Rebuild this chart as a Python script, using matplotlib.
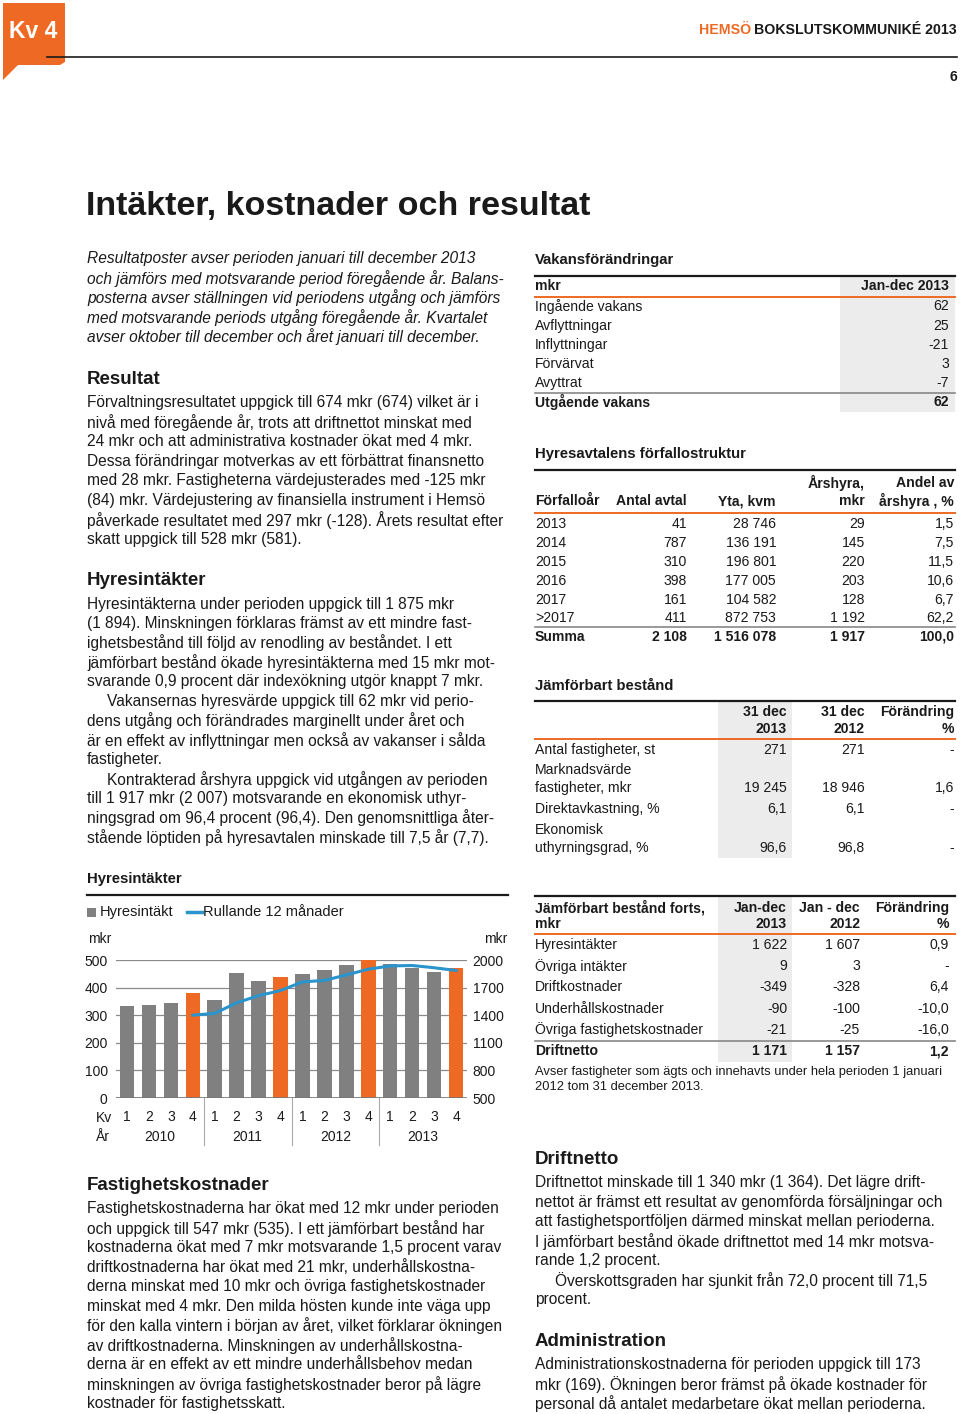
import matplotlib
matplotlib.use("Agg")
import matplotlib.pyplot as plt
from matplotlib.lines import Line2D
from matplotlib.patches import Rectangle, Polygon
import numpy as np

plt.rcParams['font.family'] = ['Liberation Sans', 'DejaVu Sans']

# ---- chart data (Hyresintäkter per kvartal, mkr) ----
quarters = [1, 2, 3, 4, 1, 2, 3, 4, 1, 2, 3, 4, 1, 2, 3, 4]
years = ['2010', '2011', '2012', '2013']
rent_income = [335, 336, 346, 380, 355, 452, 423, 437,
               451, 465, 483, 500, 486, 471, 457, 471]
# rolling 12 months, starts at Q4 2010
rolling_12m = [None, None, None, 1400, 1420, 1535, 1612, 1668,
               1762, 1778, 1838, 1900, 1936, 1940, 1916, 1886]
left_ticks = [0, 100, 200, 300, 400, 500]
right_ticks = [500, 800, 1100, 1400, 1700, 2000]

# ---- tables ----
vakans_rows = ['Ingående vakans', 'Avflyttningar', 'Inflyttningar', 'Förvärvat', 'Avyttrat']
vakans_vals = ['62', '25', '-21', '3', '-7']
vakans_total = ('Utgående vakans', '62')

forfall_years = ['2013', '2014', '2015', '2016', '2017', '>2017']
forfall_avtal = ['41', '787', '310', '398', '161', '411']
forfall_yta = ['28 746', '136 191', '196 801', '177 005', '104 582', '872 753']
forfall_hyra = ['29', '145', '220', '203', '128', '1 192']
forfall_andel = ['1,5', '7,5', '11,5', '10,6', '6,7', '62,2']
forfall_sum = ['Summa', '2 108', '1 516 078', '1 917', '100,0']

jamf_rows = ['Antal fastigheter, st', 'Marknadsvärde\nfastigheter, mkr',
             'Direktavkastning, %', 'Ekonomisk\nuthyrningsgrad, %']
jamf_2013 = ['271', '19 245', '6,1', '96,6']
jamf_2012 = ['271', '18 946', '6,1', '96,8']
jamf_chg = ['-', '1,6', '-', '-']

forts_rows = ['Hyresintäkter', 'Övriga intäkter', 'Driftkostnader',
              'Underhållskostnader', 'Övriga fastighetskostnader']
forts_2013 = ['1 622', '9', '-349', '-90', '-21']
forts_2012 = ['1 607', '3', '-328', '-100', '-25']
forts_chg = ['0,9', '-', '6,4', '-10,0', '-16,0']
forts_total = ['Driftnetto', '1 171', '1 157', '1,2']

ORANGE = '#ee6a24'
GRAY = '#808080'
BLUE = '#2a94cc'
SHADE = '#ececec'
INK = '#1a1a1a'

W, H = 960, 1414
fig = plt.figure(figsize=(W / 100, H / 100), dpi=100)

BODY = 11.2   # running text
HEAD = 13.5   # section headings
TS = 10.1     # table text
TT = 10.7     # table titles


def T(x, y, s, size=BODY, **kw):
    kw.setdefault('color', INK)
    kw.setdefault('va', 'center')
    fig.text(x / W, 1 - y / H, s, fontsize=size, **kw)


def hline(x0, x1, y, color=INK, lw=1.0):
    fig.add_artist(Line2D([x0 / W, x1 / W], [1 - y / H, 1 - y / H],
                          transform=fig.transFigure, color=color, lw=lw))


def shade(x0, x1, y0, y1):
    fig.add_artist(Rectangle((x0 / W, 1 - y1 / H), (x1 - x0) / W, (y1 - y0) / H,
                             transform=fig.transFigure, color=SHADE, lw=0, zorder=0))


def para(x, y0, lines, step=19.45, size=BODY, indent=(), **kw):
    for i, ln in enumerate(lines):
        T(x + (20 if i in indent else 0), y0 + i * step, ln, size=size, **kw)


# ---- page header ----
tab = [(3, 3), (65, 3), (65, 62), (60, 65), (18, 65), (3, 80)]
fig.add_artist(Polygon([(x / W, 1 - y / H) for x, y in tab], closed=True,
                       transform=fig.transFigure, color=ORANGE, lw=0))
T(9, 31, 'Kv 4', size=16.5, color='white', weight='bold')
T(957, 30, 'BOKSLUTSKOMMUNIKÉ 2013', size=10.2, weight='bold', ha='right')
T(751, 30, 'HEMSÖ', size=10.2, weight='bold', ha='right', color=ORANGE)
hline(47, 957, 57, lw=1.2)
T(957, 77, '6', size=10, weight='bold', ha='right')

T(86, 207, 'Intäkter, kostnader och resultat', size=24.5, weight='bold')

# ---- left column text ----
para(87, 259, [
    'Resultatposter avser perioden januari till december 2013',
    'och jämförs med motsvarande period föregående år. Balans-',
    'posterna avser ställningen vid periodens utgång och jämförs',
    'med motsvarande periods utgång föregående år. Kvartalet',
    'avser oktober till december och året januari till december.'],
    style='italic')

T(87, 379, 'Resultat', size=HEAD, weight='bold')
para(87, 403, [
    'Förvaltningsresultatet uppgick till 674 mkr (674) vilket är i',
    'nivå med föregående år, trots att driftnettot minskat med',
    '24 mkr och att administrativa kostnader ökat med 4 mkr.',
    'Dessa förändringar motverkas av ett förbättrat finansnetto',
    'med 28 mkr. Fastigheterna värdejusterades med -125 mkr',
    '(84) mkr. Värdejustering av finansiella instrument i Hemsö',
    'påverkade resultatet med 297 mkr (-128). Årets resultat efter',
    'skatt uppgick till 528 mkr (581).'])

T(87, 581, 'Hyresintäkter', size=HEAD, weight='bold')
para(87, 604, [
    'Hyresintäkterna under perioden uppgick till 1 875 mkr',
    '(1 894). Minskningen förklaras främst av ett mindre fast-',
    'ighetsbestånd till följd av renodling av beståndet. I ett',
    'jämförbart bestånd ökade hyresintäkterna med 15 mkr mot-',
    'svarande 0,9 procent där indexökning utgör knappt 7 mkr.',
    'Vakansernas hyresvärde uppgick till 62 mkr vid perio-',
    'dens utgång och förändrades marginellt under året och',
    'är en effekt av inflyttningar men också av vakanser i sålda',
    'fastigheter.',
    'Kontrakterad årshyra uppgick vid utgången av perioden',
    'till 1 917 mkr (2 007) motsvarande en ekonomisk uthyr-',
    'ningsgrad om 96,4 procent (96,4). Den genomsnittliga åter-',
    'stående löptiden på hyresavtalen minskade till 7,5 år (7,7).'],
    indent=(5, 9))

T(87, 1185, 'Fastighetskostnader', size=HEAD, weight='bold')
para(87, 1209, [
    'Fastighetskostnaderna har ökat med 12 mkr under perioden',
    'och uppgick till 547 mkr (535). I ett jämförbart bestånd har',
    'kostnaderna ökat med 7 mkr motsvarande 1,5 procent varav',
    'driftkostnaderna har ökat med 21 mkr, underhållskostna-',
    'derna minskat med 10 mkr och övriga fastighetskostnader',
    'minskat med 4 mkr. Den milda hösten kunde inte väga upp',
    'för den kalla vintern i början av året, vilket förklarar ökningen',
    'av driftkostnaderna. Minskningen av underhållskostna-',
    'derna är en effekt av ett mindre underhållsbehov medan',
    'minskningen av övriga fastighetskostnader beror på lägre',
    'kostnader för fastighetsskatt.'])

# ---- right column text ----
T(535, 1160, 'Driftnetto', size=HEAD, weight='bold')
para(535, 1183, [
    'Driftnettot minskade till 1 340 mkr (1 364). Det lägre drift-',
    'nettot är främst ett resultat av genomförda försäljningar och',
    'att fastighetsportföljen därmed minskat mellan perioderna.',
    'I jämförbart bestånd ökade driftnettot med 14 mkr motsva-',
    'rande 1,2 procent.',
    'Överskottsgraden har sjunkit från 72,0 procent till 71,5',
    'procent.'], indent=(5,))

T(535, 1342, 'Administration', size=HEAD, weight='bold')
para(535, 1365, [
    'Administrationskostnaderna för perioden uppgick till 173',
    'mkr (169). Ökningen beror främst på ökade kostnader för',
    'personal då antalet medarbetare ökat mellan perioderna.'])

# ---- Vakansförändringar ----
T(535, 260, 'Vakansförändringar', size=TT, weight='bold')
shade(840, 955, 276, 412)
hline(535, 955, 276, lw=1.6)
T(535, 286, 'mkr', size=TS, weight='bold')
T(949, 286, 'Jan-dec 2013', size=TS, weight='bold', ha='right')
hline(535, 955, 297, color=ORANGE, lw=1.4)
for i, (lab, v) in enumerate(zip(vakans_rows, vakans_vals)):
    T(535, 306.5 + i * 19.1, lab, size=TS)
    T(949, 306.5 + i * 19.1, v, size=TS, ha='right')
hline(535, 955, 393, color='#888888', lw=1.2)
T(535, 402, vakans_total[0], size=TS, weight='bold')
T(949, 402, vakans_total[1], size=TS, weight='bold', ha='right')

# ---- Hyresavtalens förfallostruktur ----
T(535, 454, 'Hyresavtalens förfallostruktur', size=TT, weight='bold')
hline(535, 955, 470, lw=1.6)
cols_r = [687, 776, 865, 954]
T(535, 501, 'Förfalloår', size=TS, weight='bold')
T(cols_r[0], 501, 'Antal avtal', size=TS, weight='bold', ha='right')
T(cols_r[1], 501, 'Yta, kvm', size=TS, weight='bold', ha='right')
T(cols_r[2], 483, 'Årshyra,', size=TS, weight='bold', ha='right')
T(cols_r[2], 501, 'mkr', size=TS, weight='bold', ha='right')
T(cols_r[3], 483, 'Andel av', size=TS, weight='bold', ha='right')
T(cols_r[3], 501, 'årshyra , %', size=TS, weight='bold', ha='right')
hline(535, 955, 513, color=ORANGE, lw=1.4)
for i, row in enumerate(zip(forfall_years, forfall_avtal, forfall_yta,
                            forfall_hyra, forfall_andel)):
    y = 524 + i * 18.9
    T(535, y, row[0], size=TS)
    for xr, v in zip(cols_r, row[1:]):
        T(xr, y, v, size=TS, ha='right')
hline(535, 955, 627.5, color='#888888', lw=1.2)
T(535, 637, forfall_sum[0], size=TS, weight='bold')
for xr, v in zip(cols_r, forfall_sum[1:]):
    T(xr, 637, v, size=TS, weight='bold', ha='right')

# ---- Jämförbart bestånd ----
T(535, 686, 'Jämförbart bestånd', size=TT, weight='bold')
shade(718, 792, 701, 858)
hline(535, 955, 701, lw=1.6)
jcols = [787, 865, 954]
for xr, (a, b) in zip(jcols, [('31 dec', '2013'), ('31 dec', '2012'), ('Förändring', '%')]):
    T(xr, 712, a, size=TS, weight='bold', ha='right')
    T(xr, 729, b, size=TS, weight='bold', ha='right')
hline(535, 955, 739, color=ORANGE, lw=1.4)
jy = [750, 788, 809, 848]
for lab, y, a, b, c in zip(jamf_rows, jy, jamf_2013, jamf_2012, jamf_chg):
    parts = lab.split('\n')
    for k, p in enumerate(parts):
        T(535, y - (len(parts) - 1 - k) * 18.5, p, size=TS)
    for xr, v in zip(jcols, (a, b, c)):
        T(xr, y, v, size=TS, ha='right')

# ---- Jämförbart bestånd forts ----
shade(718, 792, 896, 1062)
hline(535, 955, 896, lw=1.6)
fcols = [787, 860, 949]
T(535, 908, 'Jämförbart bestånd forts,', size=TS, weight='bold')
T(535, 924, 'mkr', size=TS, weight='bold')
for xr, (a, b) in zip(fcols, [('Jan-dec', '2013'), ('Jan - dec', '2012'), ('Förändring', '%')]):
    T(xr, 908, a, size=TS, weight='bold', ha='right')
    T(xr, 924, b, size=TS, weight='bold', ha='right')
hline(535, 955, 934, color=ORANGE, lw=1.4)
for i, row in enumerate(zip(forts_rows, forts_2013, forts_2012, forts_chg)):
    y = 945 + i * 21.2
    T(535, y, row[0], size=TS)
    for xr, v in zip(fcols, row[1:]):
        T(xr, y, v, size=TS, ha='right')
hline(535, 955, 1040.5, color='#888888', lw=1.2)
T(535, 1051, forts_total[0], size=TS, weight='bold')
for xr, v in zip(fcols, forts_total[1:]):
    T(xr, 1051, v, size=TS, weight='bold', ha='right')
T(535, 1072, 'Avser fastigheter som ägts och innehavts under hela perioden 1 januari', size=9.3)
T(535, 1087, '2012 tom 31 december 2013.', size=9.3)

# ---- chart: Hyresintäkter ----
T(87, 879, 'Hyresintäkter', size=TT, weight='bold')
hline(87, 508, 895, lw=1.6)
fig.add_artist(Rectangle((87 / W, 1 - 917 / H), 9 / W, 9 / H,
                         transform=fig.transFigure, color=GRAY, lw=0))
T(100, 912, 'Hyresintäkt', size=10.5)
hline(187, 202, 912, color=BLUE, lw=2.5)
T(203, 912, 'Rullande 12 månader', size=10.5)
T(88, 939, 'mkr', size=10)
T(507, 939, 'mkr', size=10, ha='right')

ax = fig.add_axes([116 / W, 1 - 1098 / H, (467 - 116) / W, (1098 - 960) / H])
x = np.arange(len(rent_income))
bar_colors = [ORANGE if q == 4 else GRAY for q in quarters]
ax.bar(x, rent_income, width=0.66, color=bar_colors, zorder=2)
ax.set_xlim(-0.5, len(x) - 0.5)
ax.set_ylim(0, 500)
ax.set_yticks(left_ticks)
ax.grid(axis='y', color='#8a8a8a', lw=0.9, zorder=0)
for s in ax.spines.values():
    s.set_visible(False)
ax.axhline(0, color='#777777', lw=1.2, zorder=3)
ax.tick_params(axis='y', length=0, pad=6, labelsize=10, labelcolor=INK)
ax.set_xticks([])

ax2 = ax.twinx()
xr_ = [i for i, v in enumerate(rolling_12m) if v is not None]
yr_ = [v for v in rolling_12m if v is not None]
ax2.plot(xr_, yr_, color=BLUE, lw=2.2, zorder=4)
ax2.set_ylim(500, 2000)
ax2.set_yticks(right_ticks)
for s in ax2.spines.values():
    s.set_visible(False)
ax2.tick_params(axis='y', length=0, pad=4, labelsize=10, labelcolor=INK)

# quarter / year labels below chart
T(96, 1118, 'Kv', size=10)
T(96, 1137, 'År', size=10)
trans = ax.get_xaxis_transform()
for i, q in enumerate(quarters):
    ax.text(i, -0.14, str(q), transform=trans, ha='center', va='center',
            fontsize=10, color=INK)
for k, yr in enumerate(years):
    ax.text(4 * k + 1.5, -0.285, yr, transform=trans, ha='center', va='center',
            fontsize=10, color=INK)
for k in range(1, len(years)):
    ax.plot([4 * k - 0.5, 4 * k - 0.5], [0, -0.34], transform=trans,
            color='#aaaaaa', lw=0.8, clip_on=False)

fig.savefig('out.png', dpi=100)
